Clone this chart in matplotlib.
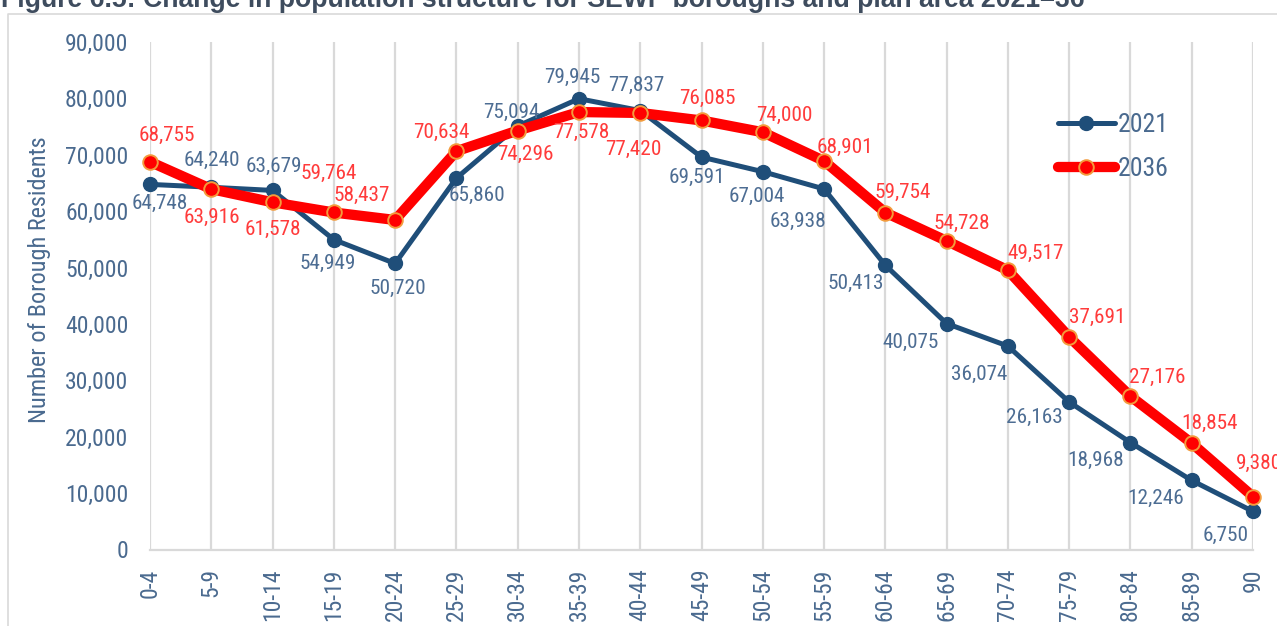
import matplotlib
matplotlib.use("Agg")
import matplotlib.pyplot as plt
from matplotlib import font_manager as fm
from matplotlib.lines import Line2D

# ---------------- data ----------------
age_groups = ["0-4", "5-9", "10-14", "15-19", "20-24", "25-29", "30-34", "35-39",
              "40-44", "45-49", "50-54", "55-59", "60-64", "65-69", "70-74",
              "75-79", "80-84", "85-89", "90"]
pop_2021 = [64748, 64240, 63679, 54949, 50720, 65860, 75094, 79945, 77837, 69591,
            67004, 63938, 50413, 40075, 36074, 26163, 18968, 12246, 6750]
pop_2036 = [68755, 63916, 61578, 59764, 58437, 70634, 74296, 77578, 77420, 76085,
            74000, 68901, 59754, 54728, 49517, 37691, 27176, 18854, 9380]
series_names = ["2021", "2036"]
y_ticks = [0, 10000, 20000, 30000, 40000, 50000, 60000, 70000, 80000, 90000]
title = "Figure 6.5: Change in population structure for SEWP boroughs and plan area 2021\u201336"
y_title = "Number of Borough Residents"

# data-label placement (pixel offsets from the point: dx, dy-up)
off_2021 = [(10, -19), (1, 27), (1, 24), (-6, -24), (3, -25), (21, -17), (-6, 14),
            (-7, 21), (-4, 25), (-5, -20), (-6, -25), (-26, -32), (-30, -18),
            (-36, -19), (-29, -28), (-35, -15), (-35, -18), (-36, -18), (-27, -24)]
off_2036 = [(17, 26), (1, -28), (0, -27), (-5, 39), (-33, 25), (-15, 19), (8, -24),
            (2, -20), (-7, -36), (6, 22), (22, 17), (21, 14), (17, 20), (15, 18),
            (28, 17), (28, 20), (27, 19), (18, 20), (6, 33)]

# ---------------- style ----------------
available = {f.name for f in fm.fontManager.ttflist}


def pick(*names):
    for n in names:
        if n in available:
            return n
    return "DejaVu Sans"


FONT = pick("Liberation Sans Narrow", "Roboto Condensed", "DejaVu Sans")
TITLE_FONT = pick("Liberation Sans", "DejaVu Sans")
plt.rcParams["font.family"] = [FONT, "DejaVu Sans"]

W, H = 1277, 626
C_TEXT = "#4a6a8f"
C_2021 = "#1f4e79"
C_2036 = "#ff0000"
C_2036_EDGE = "#f39b3c"
C_2021_LAB = "#4d6d93"
C_2036_LAB = "#ff3b3b"
C_GRID = "#d9d9d9"

fig = plt.figure(figsize=(W / 100, H / 100), dpi=100)
ax_left, ax_right, ax_top, ax_bottom = 150, 1253, 42, 549.5
ax = fig.add_axes([ax_left / W, (H - ax_bottom) / H,
                   (ax_right - ax_left) / W, (ax_bottom - ax_top) / H])

x = list(range(len(age_groups)))
l1, = ax.plot(x, pop_2021, color=C_2021, lw=3.6, marker="o", ms=10,
              mfc=C_2021, mec=C_2021, clip_on=False, zorder=3,
              solid_capstyle="round", label=series_names[0])
l2, = ax.plot(x, pop_2036, color=C_2036, lw=7.4, marker="o", ms=10.5,
              mfc=C_2036, mec=C_2036_EDGE, mew=1.4, clip_on=False, zorder=4,
              solid_capstyle="round", label=series_names[1])

ax.set_xlim(0, len(age_groups) - 1)
ax.set_ylim(y_ticks[0], y_ticks[-1])
ax.set_xticks(x)
ax.set_xticklabels(age_groups, rotation=90, fontsize=17, color=C_TEXT)
ax.set_yticks(y_ticks)
ax.set_yticklabels([f"{t:,}" for t in y_ticks], fontsize=17, color=C_TEXT)
ax.tick_params(axis="x", length=0, pad=13.5)
ax.tick_params(axis="y", length=0, pad=15.5)
ax.grid(axis="x", color=C_GRID, lw=1.6)
ax.grid(axis="y", visible=False)
ax.set_axisbelow(True)
for s in ["top", "right", "left"]:
    ax.spines[s].set_visible(False)
ax.spines["bottom"].set_color(C_GRID)
ax.spines["bottom"].set_linewidth(1.6)

for i, v in enumerate(pop_2021):
    ax.annotate(f"{v:,}", (x[i], v), xytext=off_2021[i], textcoords="offset pixels",
                ha="center", va="center", fontsize=15.3, color=C_2021_LAB,
                annotation_clip=False, zorder=5)
for i, v in enumerate(pop_2036):
    ax.annotate(f"{v:,}", (x[i], v), xytext=off_2036[i], textcoords="offset pixels",
                ha="center", va="center", fontsize=15.3, color=C_2036_LAB,
                annotation_clip=False, zorder=5)

fig.text(40 / W, 1 - 280 / H, y_title, rotation=90, ha="center", va="center",
         fontsize=17.5, color=C_TEXT)

leg = fig.legend(handles=[l1, l2], loc="upper left",
                 bbox_to_anchor=(1058 / W, 1 - 113 / H), frameon=False,
                 fontsize=18.5, handlelength=2.2, handletextpad=0.12,
                 labelspacing=0.78, borderpad=0, borderaxespad=0)
for t in leg.get_texts():
    t.set_color(C_TEXT)

# chart border (only top and left edges fall inside the image)
fig.add_artist(Line2D([8 / W, 8 / W, 1.0], [0, 1 - 14 / H, 1 - 14 / H],
                      transform=fig.transFigure, color=C_GRID, lw=1.2))

# title, cut off by the top of the image as in the reference
tt = fig.text(1 / W, 1 - 7 / H, title, ha="left", va="baseline", fontsize=16,
              fontweight="bold", color="#3e4c5e", family=[TITLE_FONT, "DejaVu Sans"])
fig.canvas.draw()
wpx = tt.get_window_extent().width
tt.set_fontsize(16 * 1086 / wpx)

fig.savefig("out.png", dpi=100)
